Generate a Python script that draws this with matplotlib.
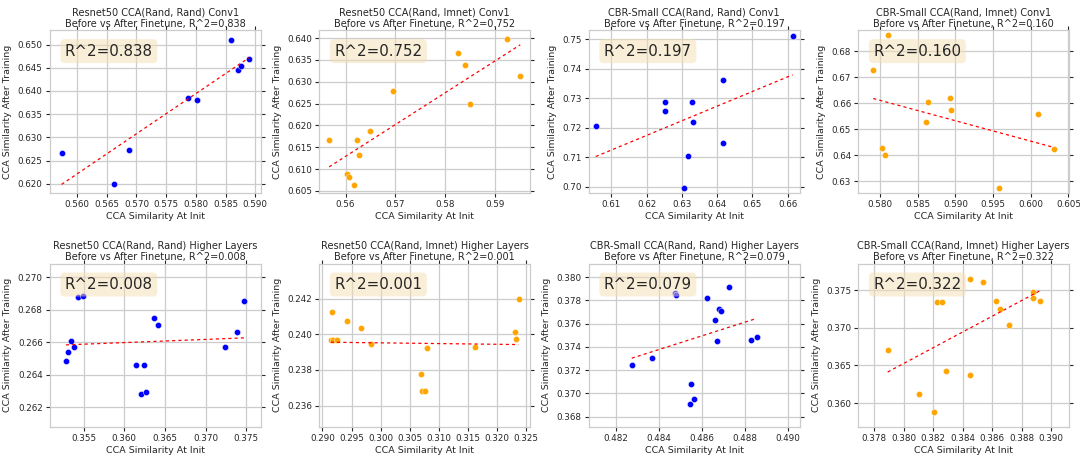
import numpy as np
import matplotlib
matplotlib.use("Agg")
import matplotlib.pyplot as plt
from matplotlib.ticker import MaxNLocator

# values, one pair of lists per panel
rr_conv1_init = [0.5574, 0.5663, 0.5687, 0.5786, 0.5802, 0.5859, 0.5871, 0.5875, 0.5889]
rr_conv1_after = [0.6267, 0.6199, 0.6273, 0.6384, 0.6380, 0.6511, 0.6446, 0.6453, 0.6468]

ri_conv1_init = [0.5567, 0.5602, 0.5606, 0.5616, 0.5624, 0.5627, 0.5649, 0.5696, 0.5825,
                 0.5839, 0.5850, 0.5924, 0.5951]
ri_conv1_after = [0.6166, 0.6088, 0.6081, 0.6064, 0.6166, 0.6131, 0.6186, 0.6278, 0.6365,
                  0.6339, 0.6248, 0.6398, 0.6314]

cbr_rr_conv1_init = [0.6056, 0.6253, 0.6252, 0.6329, 0.6331, 0.6317, 0.6306, 0.6416, 0.6417, 0.6614]
cbr_rr_conv1_after = [0.7207, 0.7286, 0.7257, 0.7286, 0.7218, 0.7103, 0.6997, 0.7363, 0.7149, 0.7510]

cbr_ri_conv1_init = [0.5791, 0.5811, 0.5802, 0.5807, 0.5861, 0.5863, 0.5893, 0.5894, 0.5958,
                     0.6010, 0.6031]
cbr_ri_conv1_after = [0.6729, 0.6862, 0.6429, 0.6399, 0.6526, 0.6605, 0.6620, 0.6576, 0.6272,
                      0.6560, 0.6422]

rr_high_init = [0.35435, 0.35488, 0.35284, 0.35305, 0.35350, 0.35378, 0.36150, 0.36247,
                0.36203, 0.36268, 0.36362, 0.36410, 0.37242, 0.37380, 0.37477]
rr_high_after = [0.26880, 0.26884, 0.26482, 0.26538, 0.26606, 0.26569, 0.26460, 0.26462,
                 0.26278, 0.26293, 0.26751, 0.26707, 0.26573, 0.26664, 0.26852]

ri_high_init = [0.29173, 0.29144, 0.29178, 0.29247, 0.29420, 0.29656, 0.29829, 0.30703,
                0.30714, 0.30760, 0.30801, 0.31618, 0.32309, 0.32320, 0.32372]
ri_high_after = [0.24123, 0.23969, 0.23969, 0.23966, 0.24074, 0.24035, 0.23943, 0.23780,
                 0.23681, 0.23681, 0.23922, 0.23926, 0.24010, 0.23975, 0.24196]

cbr_rr_high_init = [0.48273, 0.48367, 0.48475, 0.48480, 0.48548, 0.48543, 0.48561, 0.48623,
                    0.48661, 0.48669, 0.48680, 0.48686, 0.48723, 0.48825, 0.48853]
cbr_rr_high_after = [0.37243, 0.37304, 0.37868, 0.37845, 0.37079, 0.36912, 0.36953, 0.37824,
                     0.37635, 0.37453, 0.37729, 0.37709, 0.37917, 0.37462, 0.37488]

cbr_ri_high_init = [0.37891, 0.38105, 0.38205, 0.38226, 0.38256, 0.38286, 0.38447, 0.38452,
                    0.38538, 0.38625, 0.38654, 0.38716, 0.38873, 0.38876, 0.38921]
cbr_ri_high_after = [0.36710, 0.36120, 0.35885, 0.37335, 0.37335, 0.36421, 0.37650, 0.36368,
                     0.37602, 0.37349, 0.37251, 0.37038, 0.37477, 0.37389, 0.37349]

titles = [
    "Resnet50 CCA(Rand, Rand) Conv1",
    "Resnet50 CCA(Rand, Imnet) Conv1",
    "CBR-Small CCA(Rand, Rand) Conv1",
    "CBR-Small CCA(Rand, Imnet) Conv1",
    "Resnet50 CCA(Rand, Rand) Higher Layers",
    "Resnet50 CCA(Rand, Imnet) Higher Layers",
    "CBR-Small CCA(Rand, Rand) Higher Layers",
    "CBR-Small CCA(Rand, Imnet) Higher Layers",
]
r2_labels = ["0.838", "0.752", "0.197", "0.160", "0.008", "0.001", "0.079", "0.322"]
colors = ["blue", "orange", "blue", "orange", "blue", "orange", "blue", "orange"]

panels = [
    (rr_conv1_init, rr_conv1_after),
    (ri_conv1_init, ri_conv1_after),
    (cbr_rr_conv1_init, cbr_rr_conv1_after),
    (cbr_ri_conv1_init, cbr_ri_conv1_after),
    (rr_high_init, rr_high_after),
    (ri_high_init, ri_high_after),
    (cbr_rr_high_init, cbr_rr_high_after),
    (cbr_ri_high_init, cbr_ri_high_after),
]

plt.rcParams['font.family'] = 'DejaVu Sans'
plt.rcParams['text.color'] = '#262626'
plt.rcParams['axes.labelcolor'] = '#262626'
plt.rcParams['xtick.color'] = '#262626'
plt.rcParams['ytick.color'] = '#262626'

fig, axes = plt.subplots(2, 4, figsize=(10.8, 4.58), dpi=100)
fig.subplots_adjust(left=0.046, right=0.99, top=0.934, bottom=0.068,
                    wspace=0.277, hspace=0.43)

for ax, (x, y), title, r2, c in zip(axes.flat, panels, titles, r2_labels, colors):
    x = np.array(x)
    y = np.array(y)

    ax.grid(True, color='#cccccc', linewidth=0.9)
    ax.set_axisbelow(True)
    for side in ax.spines.values():
        side.set_color('#cccccc')
        side.set_linewidth(0.9)

    ax.scatter(x, y, s=20, color=c, edgecolors='white', linewidths=0.3, zorder=2)

    # linear fit
    slope, intercept = np.polyfit(x, y, 1)
    xs = np.array([x.min(), x.max()])
    ax.plot(xs, slope * xs + intercept, color='red', linestyle=(0, (2.5, 2.5)),
            linewidth=0.9, zorder=3)

    ax.set_xlim(x.min() - 0.002, x.max() + 0.002)
    ax.set_ylim(y.min() - 0.002, y.max() + 0.002)
    ax.yaxis.set_major_locator(MaxNLocator('auto', steps=[1, 2, 5, 10]))

    ax.text(0.072, 0.918, "R^2=" + r2, transform=ax.transAxes, fontsize=10.8,
            va='top', bbox=dict(boxstyle='round', facecolor='wheat', alpha=0.5,
                                edgecolor='none'), zorder=4)

    ax.set_title(title + "\nBefore vs After Finetune, R^2=" + r2, fontsize=7, pad=2.5)
    ax.set_xlabel("CCA Similarity At Init", fontsize=6.8, labelpad=2)
    ax.set_ylabel("CCA Similarity After Training", fontsize=6.8, labelpad=4)
    ax.tick_params(axis='both', labelsize=6.3, left=True, bottom=True,
                   right=True, top=True, direction='out', length=3, width=0.8,
                   color='#262626', pad=2)

plt.savefig("out.png", dpi=100)
